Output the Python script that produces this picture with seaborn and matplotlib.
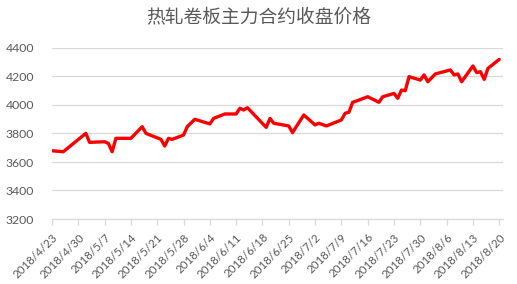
import matplotlib
matplotlib.use("Agg")
import matplotlib.pyplot as plt
import seaborn as sns
import pandas as pd
import numpy as np

title = "热轧卷板主力合约收盘价格"

dates = ["2018-04-23", "2018-04-26", "2018-05-02", "2018-05-03", "2018-05-07", "2018-05-08",
         "2018-05-09", "2018-05-10", "2018-05-14", "2018-05-17", "2018-05-18", "2018-05-22",
         "2018-05-23", "2018-05-24", "2018-05-25", "2018-05-28", "2018-05-29", "2018-05-31",
         "2018-06-04", "2018-06-05", "2018-06-08", "2018-06-11", "2018-06-12", "2018-06-13",
         "2018-06-14", "2018-06-19", "2018-06-20", "2018-06-21", "2018-06-25", "2018-06-26",
         "2018-06-27", "2018-06-29", "2018-07-02", "2018-07-03", "2018-07-05", "2018-07-09",
         "2018-07-10", "2018-07-11", "2018-07-12", "2018-07-13", "2018-07-16", "2018-07-19",
         "2018-07-20", "2018-07-23", "2018-07-24", "2018-07-25", "2018-07-26", "2018-07-27",
         "2018-07-30", "2018-07-31", "2018-08-01", "2018-08-03", "2018-08-07", "2018-08-08",
         "2018-08-09", "2018-08-10", "2018-08-13", "2018-08-14", "2018-08-15", "2018-08-16",
         "2018-08-17", "2018-08-20"]
prices = [3679, 3672, 3801, 3738, 3742, 3731,
          3672, 3766, 3766, 3848, 3801, 3759,
          3712, 3766, 3759, 3789, 3848, 3900,
          3867, 3906, 3937, 3937, 3977, 3965,
          3981, 3843, 3906, 3872, 3853, 3806,
          3848, 3930, 3860, 3872, 3853, 3895,
          3942, 3949, 4019, 4028, 4058, 4019,
          4058, 4081, 4047, 4105, 4100, 4199,
          4175, 4211, 4163, 4218, 4246, 4211,
          4218, 4163, 4274, 4227, 4234, 4180,
          4257, 4320]

tick_dates = ["2018-04-23", "2018-04-30", "2018-05-07", "2018-05-14", "2018-05-21", "2018-05-28",
              "2018-06-04", "2018-06-11", "2018-06-18", "2018-06-25", "2018-07-02", "2018-07-09",
              "2018-07-16", "2018-07-23", "2018-07-30", "2018-08-06", "2018-08-13", "2018-08-20"]
tick_labels = ["2018/4/23", "2018/4/30", "2018/5/7", "2018/5/14", "2018/5/21", "2018/5/28",
               "2018/6/4", "2018/6/11", "2018/6/18", "2018/6/25", "2018/7/2", "2018/7/9",
               "2018/7/16", "2018/7/23", "2018/7/30", "2018/8/6", "2018/8/13", "2018/8/20"]
y_ticks = [3200, 3400, 3600, 3800, 4000, 4200, 4400]

sns.set_theme(style="white")
plt.rcParams['font.family'] = ['Lato', 'DejaVu Sans']

df = pd.DataFrame({"date": pd.to_datetime(dates), "price": prices})

fig = plt.figure(figsize=(5.17, 2.84), dpi=100)
ax = fig.add_axes([52/517, 1-219/284, (503-52)/517, (219-48)/284])

sns.lineplot(data=df, x="date", y="price", ax=ax, color="#fa0000", linewidth=2.4)

ax.set_ylim(3200, 4400)
ax.set_xlim(pd.Timestamp("2018-04-23"), pd.Timestamp("2018-08-20") + pd.Timedelta(days=1))
ax.set_yticks(y_ticks)
ax.set_yticklabels([str(v) for v in y_ticks], fontsize=8.8, color="#595959")
ax.set_xticks(pd.to_datetime(tick_dates))
ax.set_xticklabels(tick_labels, fontsize=8.3, color="#595959", rotation=45,
                   ha="right", va="top", rotation_mode="anchor")
ax.grid(axis="y", color="#d9d9d9", linewidth=0.9)
ax.set_axisbelow(True)
for s in ["left", "right", "top"]:
    ax.spines[s].set_visible(False)
ax.spines["bottom"].set_color("#d9d9d9")
ax.spines["bottom"].set_linewidth(0.9)
ax.tick_params(axis="x", bottom=True, length=4, width=0.9, color="#d9d9d9", pad=5)
ax.tick_params(axis="y", left=False, pad=7)
ax.set_xlabel("")
ax.set_ylabel("")

fig.text(0.5, 1-18/284, title, ha="center", va="center", fontsize=13.5, color="#595959",
         family=["Noto Sans CJK SC", "DejaVu Sans"])

fig.savefig("out.png", dpi=100, facecolor="white")
